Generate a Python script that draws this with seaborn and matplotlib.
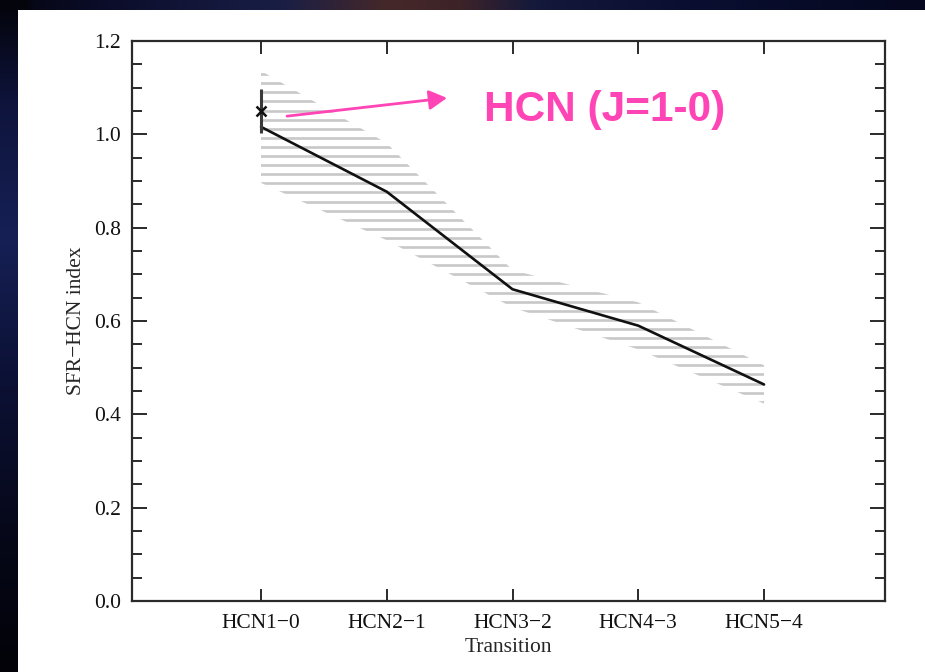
import numpy as np
import pandas as pd
import matplotlib
matplotlib.use("Agg")
import matplotlib.pyplot as plt
from matplotlib.patches import Polygon, Rectangle
from matplotlib.ticker import MultipleLocator, FormatStrFormatter
import seaborn as sns

# ---- data -------------------------------------------------------------
transitions = ["HCN1\u22120", "HCN2\u22121", "HCN3\u22122", "HCN4\u22123", "HCN5\u22124"]
positions = [1, 2, 3, 4, 5]
index_values = [1.016, 0.877, 0.668, 0.590, 0.464]
band_upper = [1.136, 0.981, 0.709, 0.640, 0.505]
band_lower = [0.896, 0.773, 0.629, 0.539, 0.423]
obs_position = 1
obs_value = 1.05
obs_error = 0.048
y_ticks = [0.0, 0.2, 0.4, 0.6, 0.8, 1.0, 1.2]

df = pd.DataFrame({"pos": positions, "index": index_values})

# ---- style ------------------------------------------------------------
sns.set_style("ticks")
plt.rcParams["font.family"] = ["Liberation Serif", "DejaVu Serif"]
plt.rcParams["axes.unicode_minus"] = True

fig = plt.figure(figsize=(9.25, 6.72), dpi=100)
fig.patch.set_facecolor("#060a1c")

# dark slide background behind the white panel
H, W = 68, 93
xf = np.linspace(0, 1, W)
yf = np.linspace(0, 1, H)
top_stops = [0, 0.1, 0.3, 0.42, 0.5, 0.58, 0.75, 1.0]
top_rgb = np.array([
    [5, 10, 25, 70, 60, 20, 10, 5],
    [5, 12, 30, 40, 35, 25, 15, 8],
    [15, 40, 70, 40, 40, 60, 50, 30],
]) / 255.0
left_stops = [0, 0.15, 0.35, 0.55, 0.8, 1.0]
left_rgb = np.array([
    [4, 14, 22, 12, 6, 2],
    [4, 20, 32, 18, 8, 2],
    [12, 60, 85, 55, 25, 8],
]) / 255.0
img = np.zeros((H, W, 3))
for c in range(3):
    row = np.interp(xf, top_stops, top_rgb[c])
    col = np.interp(yf, left_stops, left_rgb[c])
    img[:, :, c] = row[None, :]
    img[:, :3, c] = col[:, None]
bg = fig.add_axes([0, 0, 1, 1], zorder=-10)
bg.imshow(img, extent=[0, 1, 0, 1], aspect="auto", interpolation="bilinear")
bg.axis("off")

fig.patches.append(Rectangle((18 / 925, 0), 1 - 18 / 925, (672 - 10) / 672,
                             transform=fig.transFigure, facecolor="white",
                             edgecolor="none", zorder=-5))

ax = fig.add_axes([132 / 925, 71 / 672, 753 / 925, 560 / 672])
ax.set_facecolor("white")

# ---- horizontally hatched uncertainty band ---------------------------
verts = np.column_stack([
    np.concatenate([positions, positions[::-1]]),
    np.concatenate([band_upper, band_lower[::-1]]),
])
band = Polygon(verts, closed=True, facecolor="none", edgecolor="none",
               transform=ax.transData)
ax.add_patch(band)
levels = np.arange(1.129, 0.41, -0.0195)
hatch = ax.hlines(levels, 0.9, 5.1, colors="#c8c8c8", linewidth=1.9)
hatch.set_clip_path(band)
hatch.set_capstyle("butt")

# ---- index curve -----------------------------------------------------
sns.lineplot(data=df, x="pos", y="index", ax=ax, color="#111111",
             linewidth=1.9, legend=False)

# ---- observed value with error bar -----------------------------------
ax.errorbar([obs_position], [obs_value], yerr=[obs_error], fmt="x",
            color="#111111", ecolor="#3a3a3a", elinewidth=2.2, capsize=0,
            markersize=7, markeredgewidth=1.8, zorder=5)

# ---- annotation ------------------------------------------------------
ax.annotate("", xy=(2.479, 1.078), xytext=(1.207, 1.039),
            arrowprops=dict(arrowstyle="-|>,head_length=0.4,head_width=0.22",
                            color="#ff45b5", lw=2.0, mutation_scale=27,
                            shrinkA=0, shrinkB=0))
ax.text(2.773, 1.029, "HCN (J=1-0)", color="#ff45b5", fontsize=30.5,
        fontweight="bold", ha="left", va="baseline",
        family=["Liberation Sans Narrow", "Liberation Sans", "DejaVu Sans"])

# ---- axes ------------------------------------------------------------
ax.set_xlim(-0.026, 5.962)
ax.set_ylim(0, 1.2)
ax.set_xticks(positions)
ax.set_xticklabels(transitions)
ax.set_yticks(y_ticks)
ax.yaxis.set_major_formatter(FormatStrFormatter("%.1f"))
ax.yaxis.set_minor_locator(MultipleLocator(0.05))

ax.set_xlabel("Transition", fontsize=15.5, labelpad=4)
ax.set_ylabel("SFR\u2212HCN index", fontsize=15.5, labelpad=6)

ax.tick_params(axis="both", which="both", direction="in", top=True,
               right=True, color="#2a2a2a", width=1.4, labelsize=15.5,
               labelcolor="#111111")
ax.tick_params(axis="x", which="major", length=9, pad=9)
ax.tick_params(axis="y", which="major", length=11, pad=8)
ax.tick_params(axis="y", which="minor", length=7)
for s in ax.spines.values():
    s.set_visible(True)
    s.set_linewidth(1.6)
    s.set_color("#2a2a2a")

fig.savefig("out.png", dpi=100, facecolor=fig.get_facecolor())
